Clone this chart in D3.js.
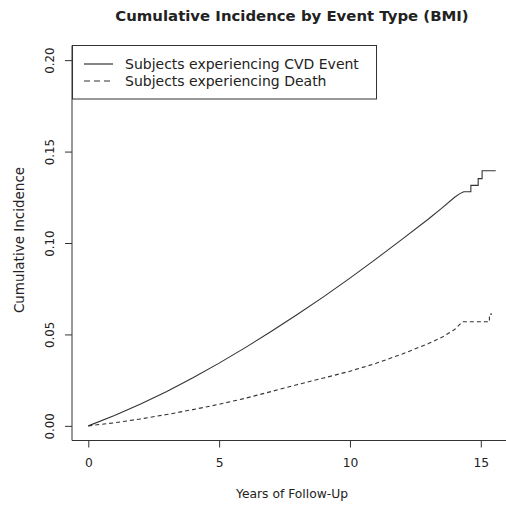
<!DOCTYPE html>
<html>
<head>
<meta charset="utf-8">
<script src="https://cdn.jsdelivr.net/npm/d3@7"></script>
<style>
  html, body { margin: 0; padding: 0; background: #fff; }
  svg { display: block; font-family: "DejaVu Sans", sans-serif; }
</style>
</head>
<body>
<svg id="chart" width="506" height="507"></svg>
<script>
// Cumulative incidence estimates (years of follow-up vs. proportion)
const cvdYears  = [0, 1, 2, 3, 4, 5, 6, 7, 8, 9, 10, 11, 12, 13, 13.5, 14, 14.2, 14.35, 14.62, 14.62, 14.9, 14.9, 15.05, 15.05, 15.57];
const cvdValues = [0, 0.0057, 0.0120, 0.0188, 0.0263, 0.0343, 0.0428, 0.0517, 0.0610, 0.0707, 0.0808, 0.0913, 0.1021, 0.1131, 0.1189, 0.1250, 0.1270, 0.1280, 0.1280, 0.1315, 0.1315, 0.1352, 0.1352, 0.1395, 0.1395];

const deathYears  = [0, 1, 2, 3, 4, 5, 6, 7, 8, 9, 10, 11, 12, 13, 13.5, 14, 14.3, 15.33, 15.33, 15.43];
const deathValues = [0, 0.0017, 0.0038, 0.0062, 0.0089, 0.0118, 0.0151, 0.0188, 0.0226, 0.0262, 0.0299, 0.0342, 0.0393, 0.0450, 0.0483, 0.0527, 0.0569, 0.0569, 0.0611, 0.0611];

const xTicks = [0, 5, 10, 15];
const yTicks = [0, 0.05, 0.10, 0.15, 0.20];
const legendLabels = ["Subjects experiencing CVD Event", "Subjects experiencing Death"];

const titleText = "Cumulative Incidence by Event Type (BMI)";
const xTitle = "Years of Follow-Up";
const yTitle = "Cumulative Incidence";

const svg = d3.select("#chart");
const ink = "#222";
const lineInk = "#333";

// Plot region (axis ranges padded by 4% on each side)
const plot = { left: 72, right: 512, top: 45.5, bottom: 440.5 };
const xMax = d3.max(cvdYears);
const xPad = xMax * 0.04;
const yMin = 0, yMax = 0.2, yPad = (yMax - yMin) * 0.04;

const x = d3.scaleLinear().domain([0 - xPad, xMax + xPad]).range([plot.left, plot.right]);
const y = d3.scaleLinear().domain([yMin - yPad, yMax + yPad]).range([plot.bottom, plot.top]);

// L-shaped frame
svg.append("path")
  .attr("d", `M${plot.left},${plot.top}V${plot.bottom}H${plot.right}`)
  .attr("fill", "none").attr("stroke", lineInk).attr("stroke-width", 1);

// X axis
const xAxis = d3.axisBottom(x).tickValues(xTicks).tickSize(7).tickPadding(11).tickFormat(d3.format("d"));
const gx = svg.append("g").attr("transform", `translate(0,${plot.bottom})`).call(xAxis);
gx.select(".domain").remove();
gx.selectAll(".tick line").attr("stroke", lineInk);
gx.selectAll(".tick text").attr("fill", ink).attr("font-size", 12.3)
  .attr("font-family", "DejaVu Sans");

// Y axis with rotated labels
const yAxis = d3.axisLeft(y).tickValues(yTicks).tickSize(7).tickFormat(d3.format(".2f"));
const gy = svg.append("g").attr("transform", `translate(${plot.left},0)`).call(yAxis);
gy.select(".domain").remove();
gy.selectAll(".tick line").attr("stroke", lineInk);
gy.selectAll(".tick text")
  .attr("fill", ink).attr("font-size", 11.8).attr("font-family", "DejaVu Sans")
  .attr("x", null).attr("dy", null)
  .attr("text-anchor", "middle")
  .attr("transform", "translate(-18,0) rotate(-90)");

// Curves
const line = d3.line().x(d => x(d[0])).y(d => y(d[1]));
const cvdData = cvdYears.map((t, i) => [t, cvdValues[i]]);
const deathData = deathYears.map((t, i) => [t, deathValues[i]]);

svg.append("path").datum(cvdData)
  .attr("d", line).attr("fill", "none")
  .attr("stroke", lineInk).attr("stroke-width", 1.1);

svg.append("path").datum(deathData)
  .attr("d", line).attr("fill", "none")
  .attr("stroke", lineInk).attr("stroke-width", 1.1)
  .attr("stroke-dasharray", "4,3");

// Legend
const legend = svg.append("g");
legend.append("rect")
  .attr("x", plot.left + 0.5).attr("y", plot.top)
  .attr("width", 304).attr("height", 53.5)
  .attr("fill", "#fff").attr("stroke", lineInk).attr("stroke-width", 1);
const dashes = [null, "6,4"];
legendLabels.forEach((lab, i) => {
  const ly = 64 + i * 17;
  legend.append("line")
    .attr("x1", 84).attr("x2", 113).attr("y1", ly).attr("y2", ly)
    .attr("stroke", lineInk).attr("stroke-width", 1.2)
    .attr("stroke-dasharray", dashes[i]);
  legend.append("text")
    .attr("x", 125).attr("y", ly + 4.6)
    .attr("font-size", 14).attr("fill", ink)
    .text(lab);
});

// Titles
svg.append("text")
  .attr("x", (plot.left + plot.right) / 2).attr("y", 20.5)
  .attr("text-anchor", "middle")
  .attr("font-size", 14.9).attr("font-weight", "bold").attr("fill", ink)
  .text(titleText);

svg.append("text")
  .attr("x", (plot.left + plot.right) / 2).attr("y", 498)
  .attr("text-anchor", "middle")
  .attr("font-size", 12.3).attr("fill", ink)
  .text(xTitle);

svg.append("text")
  .attr("transform", `translate(24,${(plot.top + plot.bottom) / 2 - 3}) rotate(-90)`)
  .attr("text-anchor", "middle")
  .attr("font-size", 13.5).attr("fill", ink)
  .text(yTitle);
</script>
</body>
</html>
